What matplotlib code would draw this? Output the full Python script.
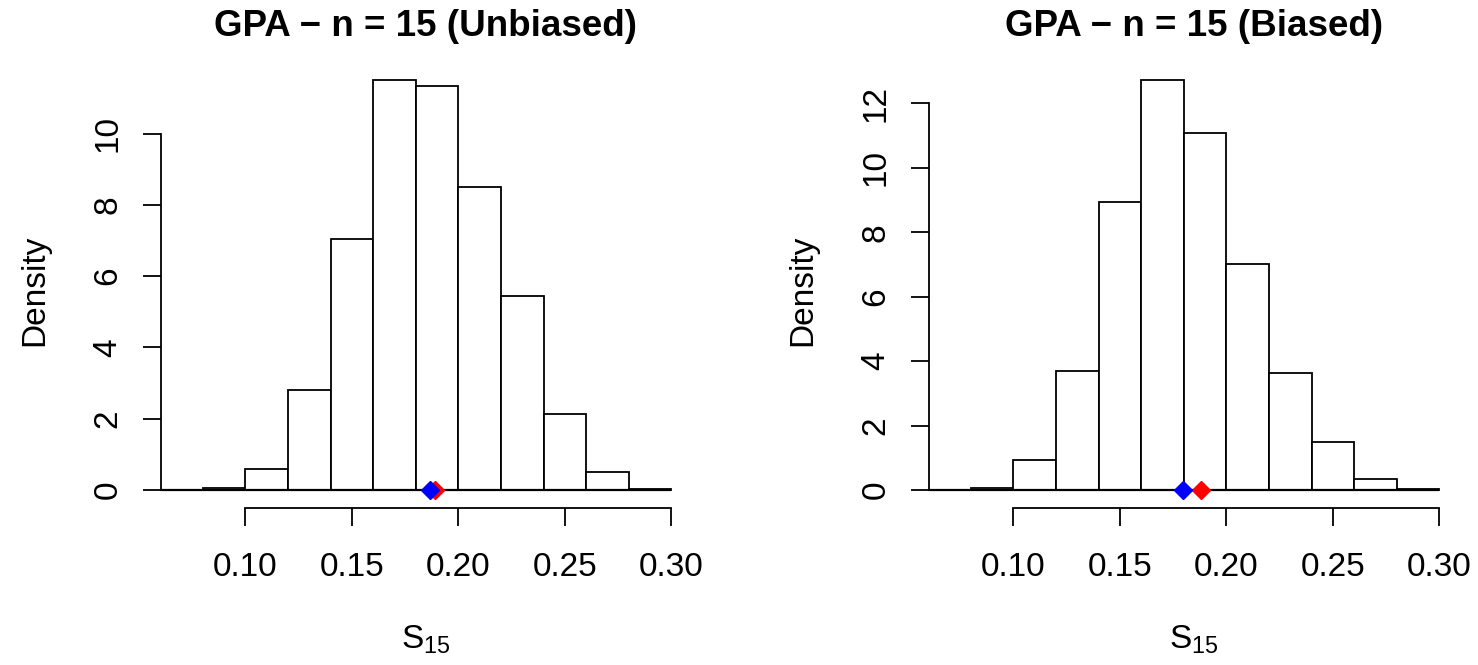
import matplotlib
matplotlib.use('Agg')
import matplotlib.pyplot as plt
import numpy as np

plt.rcParams['font.family'] = ['Liberation Sans', 'DejaVu Sans']
plt.rcParams['mathtext.fontset'] = 'custom'
plt.rcParams['mathtext.rm'] = 'Liberation Sans'
plt.rcParams['mathtext.it'] = 'Liberation Sans'

# ---- data ----
breaks = [0.06, 0.08, 0.10, 0.12, 0.14, 0.16, 0.18, 0.20, 0.22, 0.24, 0.26, 0.28, 0.30]
dens_unbiased = [0.01, 0.06, 0.59, 2.80, 7.03, 11.51, 11.35, 8.49, 5.43, 2.13, 0.51, 0.03]
dens_biased = [0.00, 0.05, 0.93, 3.70, 8.94, 12.73, 11.09, 7.02, 3.63, 1.48, 0.34, 0.02]
titles = ["GPA \u2212 n = 15 (Unbiased)", "GPA \u2212 n = 15 (Biased)"]
est_mean = [0.1866, 0.1795]     # blue diamonds
true_value = [0.1890, 0.1880]   # red diamonds
xtick_vals = [0.10, 0.15, 0.20, 0.25, 0.30]
xtick_labels = ["0.10", "0.15", "0.20", "0.25", "0.30"]
ytick_sets = [[0, 2, 4, 6, 8, 10], [0, 2, 4, 6, 8, 10, 12]]

W, H = 1478, 665
fig = plt.figure(figsize=(W / 100, H / 100), dpi=100)

plot_top, plot_bot = 63.4, 507.7
plot_w = 530
lefts = [161, 929]
zero_px = 490.0

edges = np.array(breaks)
widths = np.diff(edges)

for i, dens in enumerate([dens_unbiased, dens_biased]):
    L = lefts[i]
    ax = fig.add_axes([L / W, 1 - plot_bot / H, plot_w / W, (plot_bot - plot_top) / H])
    ax.bar(edges[:-1], dens, width=widths, align='edge', facecolor='white',
           edgecolor='black', linewidth=1.3)
    # bottoms of (near) zero-height bars, drawn as lines like R does
    ax.hlines(0, edges[0], edges[-1], colors='black', linewidth=1.6)
    ax.plot([true_value[i]], [0], marker='D', ls='none', color='red', ms=9, mec='red')
    ax.plot([est_mean[i]], [0], marker='D', ls='none', color='blue', ms=9, mec='blue')
    ax.set_xlim(0.0604, 0.3092)
    dmax = max(dens)
    yhi = dmax * 1.04
    scale = (zero_px - plot_top) / yhi
    ylo = -(plot_bot - zero_px) / scale
    ax.set_ylim(ylo, yhi)
    for s in ['top', 'right']:
        ax.spines[s].set_visible(False)
    yt = ytick_sets[i]
    ax.spines['left'].set_bounds(yt[0], yt[-1])
    ax.spines['bottom'].set_bounds(xtick_vals[0], xtick_vals[-1])
    for s in ['left', 'bottom']:
        ax.spines[s].set_linewidth(1.3)
    ax.set_xticks(xtick_vals)
    ax.set_xticklabels(xtick_labels)
    ax.set_yticks(yt)
    ax.set_yticklabels([str(v) for v in yt], rotation=90, va='center')
    ax.tick_params(axis='both', length=13, width=1.3, labelsize=24, colors='black')
    ax.tick_params(axis='x', pad=19)
    ax.tick_params(axis='y', pad=14)
    cx = (L + plot_w / 2) / W
    fig.text(cx, 1 - 26 / H, titles[i], ha='center', va='center', fontsize=26.5,
             fontweight='bold')
    fig.text(cx, 1 - 640 / H, r'$\mathregular{S_{15}}$', ha='center', va='center', fontsize=24)
    fig.text((L - 126) / W, 1 - 290 / H, 'Density', rotation=90, ha='center', va='center',
             fontsize=24)

fig.savefig('out.png', dpi=100)
